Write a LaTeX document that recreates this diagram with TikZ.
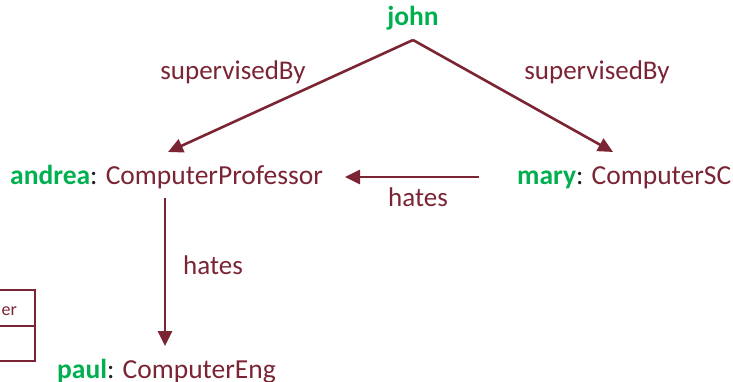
\documentclass[tikz,border=0pt]{standalone}
\usepackage{fontspec}
\setmainfont{Carlito}
\usetikzlibrary{arrows.meta}
\definecolor{wine}{RGB}{122,36,52}
\definecolor{okgreen}{RGB}{0,176,80}
\definecolor{sep}{RGB}{30,30,30}
\newcommand{\indiv}[1]{\textcolor{okgreen}{\textbf{#1}}\textcolor{sep}{:}}
\tikzset{
  lbl/.style={text=wine, font=\fontsize{27}{31}\selectfont, inner sep=0pt},
  ent/.style={text=wine, font=\fontsize{27.5}{32}\selectfont, inner sep=0pt},
  rel/.style={draw=wine, line width=2.6pt, -{Triangle[length=15pt,width=14pt]}}
}
\begin{document}
\begin{tikzpicture}[x=1pt,y=-1pt]
\useasboundingbox (0,0) rectangle (733,382);
% individuals and their classes
\node[ent, anchor=base] (john) at (413,26) {\textcolor{okgreen}{\textbf{john}}};
\node[ent, anchor=base west] (andrea) at (10,185) {\indiv{andrea} ComputerProfessor};
\node[ent, anchor=base west] (mary) at (517,185) {\indiv{mary} ComputerSC};
\node[ent, anchor=base west] (paul) at (57,378) {\indiv{paul} ComputerEng};
% connector end points
\coordinate (jtop) at (413,40);
\coordinate (aup) at (168,152);
\coordinate (mup) at (613,152);
\coordinate (mleft) at (479,177);
\coordinate (aright) at (345,177);
\coordinate (adown) at (165,198);
\coordinate (pup) at (165,346);
% relations
\draw[rel] (jtop) -- (aup);
\draw[rel] (jtop) -- (mup);
\draw[rel] (mleft) -- (aright);
\draw[rel] (adown) -- (pup);
\node[lbl] (l1) at (233,72) {supervisedBy};
\node[lbl] (l2) at (597,72) {supervisedBy};
\node[lbl] (l3) at (418,197) {hates};
\node[lbl] (l4) at (213,265) {hates};
% partially visible class box at the left edge
\draw[wine, line width=2pt] (-60,290) rectangle (35,361);
\draw[wine, line width=2pt] (-60,326) -- (35,326);
\node[text=wine, font=\fontsize{18}{21}\selectfont, anchor=base east, inner sep=0pt] (er) at (17,315) {er};
\end{tikzpicture}
\end{document}
